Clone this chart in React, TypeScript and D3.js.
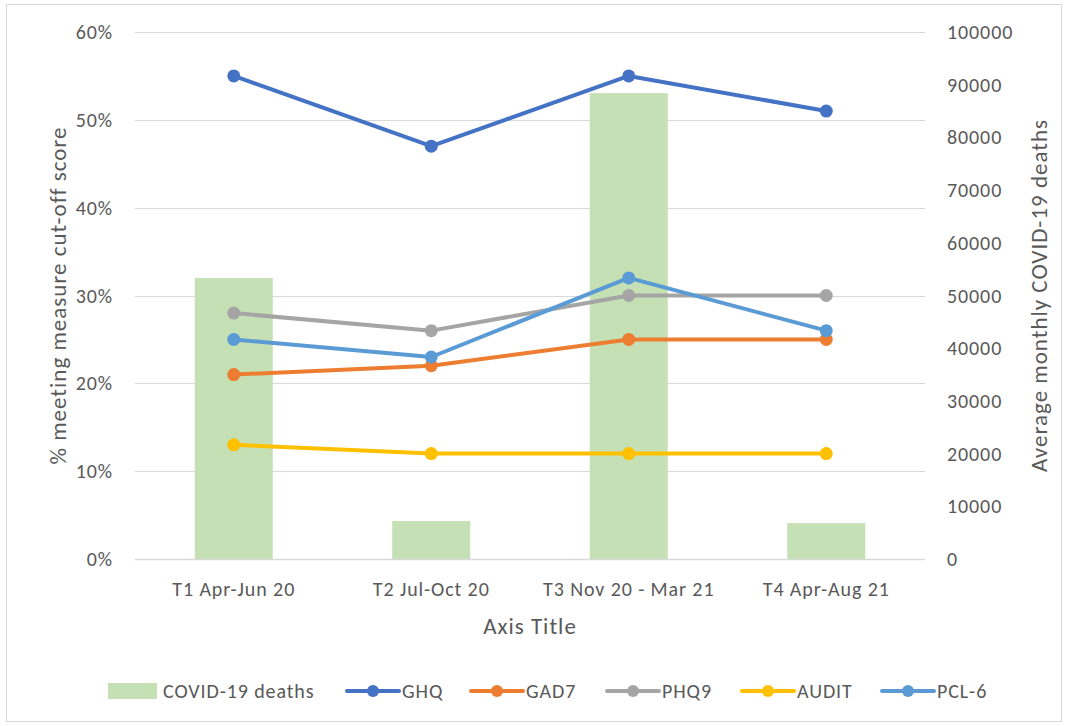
import { useEffect, useRef } from "react";
import * as d3 from "d3";

const periods = ["T1 Apr-Jun 20", "T2 Jul-Oct 20", "T3 Nov 20 - Mar 21", "T4 Apr-Aug 21"];
const covidDeaths = [53300, 7200, 88400, 6800];
const ghq = [0.55, 0.47, 0.55, 0.51];
const gad7 = [0.21, 0.22, 0.25, 0.25];
const phq9 = [0.28, 0.26, 0.3, 0.3];
const audit = [0.13, 0.12, 0.12, 0.12];
const pcl6 = [0.25, 0.23, 0.32, 0.26];

const seriesNames = ["GHQ", "GAD7", "PHQ9", "AUDIT", "PCL-6"];
const seriesColors = ["#4472C4", "#ED7D31", "#A5A5A5", "#FFC000", "#5B9BD5"];

const FONT = "Carlito, Calibri, 'Liberation Sans Narrow', 'Open Sans', sans-serif";
const TEXT = "#595959";

export default function App() {
  const ref = useRef<SVGSVGElement>(null);

  useEffect(() => {
    if (!ref.current) return;
    const width = 1069;
    const height = 726;
    const svg = d3.select(ref.current);
    svg.selectAll("*").remove();
    svg.attr("viewBox", `0 0 ${width} ${height}`);

    const left = 135, right = 925, top = 32, bottom = 559;

    svg.append("rect")
      .attr("x", 6.5).attr("y", 4.5)
      .attr("width", 1055).attr("height", 717)
      .attr("fill", "#fff").attr("stroke", "#D9D9D9");

    const x = d3.scaleBand().domain(periods).range([left, right]);
    const y = d3.scaleLinear().domain([0, 0.6]).range([bottom, top]);
    const y2 = d3.scaleLinear().domain([0, 100000]).range([bottom, top]);

    // gridlines
    svg.append("g")
      .selectAll("line")
      .data(y.ticks(6))
      .join("line")
      .attr("x1", left).attr("x2", right)
      .attr("y1", (d) => Math.round(y(d)) + 0.5)
      .attr("y2", (d) => Math.round(y(d)) + 0.5)
      .attr("stroke", "#D9D9D9")
      .attr("stroke-width", 1);

    // bars
    const barW = 78;
    svg.append("g")
      .selectAll("rect")
      .data(covidDeaths)
      .join("rect")
      .attr("x", (_, i) => x(periods[i])! + x.bandwidth() / 2 - barW / 2)
      .attr("y", (d) => y2(d))
      .attr("width", barW)
      .attr("height", (d) => bottom - y2(d))
      .attr("fill", "#C5E0B4");

    // baseline
    svg.append("line")
      .attr("x1", left).attr("x2", right)
      .attr("y1", bottom + 0.5).attr("y2", bottom + 0.5)
      .attr("stroke", "#D9D9D9").attr("stroke-width", 1.5);

    const tickStyle = (sel: any) =>
      sel.attr("font-size", 20).attr("letter-spacing", 0.9).attr("fill", TEXT);

    // left ticks
    svg.append("g")
      .selectAll("text")
      .data(y.ticks(6))
      .join("text")
      .attr("x", 113)
      .attr("y", (d) => y(d))
      .attr("dy", "0.35em")
      .attr("text-anchor", "end")
      .call(tickStyle)
      .text((d) => d3.format(".0%")(d));

    // right ticks
    svg.append("g")
      .selectAll("text")
      .data(y2.ticks(10))
      .join("text")
      .attr("x", 947)
      .attr("y", (d) => y2(d))
      .attr("dy", "0.35em")
      .attr("text-anchor", "start")
      .call(tickStyle)
      .text((d) => String(d));

    // category labels
    svg.append("g")
      .selectAll("text")
      .data(periods)
      .join("text")
      .attr("x", (d) => x(d)! + x.bandwidth() / 2)
      .attr("y", 589)
      .attr("dy", "0.35em")
      .attr("text-anchor", "middle")
      .call(tickStyle)
      .text((d) => d);

    // axis titles
    const titleStyle = (sel: any) =>
      sel.attr("font-size", 23).attr("letter-spacing", 1).attr("fill", TEXT)
        .attr("text-anchor", "middle").attr("dy", "0.35em");
    svg.append("text")
      .attr("transform", `translate(58,${(top + bottom) / 2}) rotate(-90)`)
      .call(titleStyle)
      .text("% meeting measure cut-off score");
    svg.append("text")
      .attr("transform", `translate(1039,${(top + bottom) / 2}) rotate(-90)`)
      .call(titleStyle)
      .text("Average monthly COVID-19 deaths");
    svg.append("text")
      .attr("x", (left + right) / 2)
      .attr("y", 626)
      .call(titleStyle)
      .text("Axis Title");

    // lines
    const allSeries = [ghq, gad7, phq9, audit, pcl6];
    const line = d3.line<number>()
      .x((_, i) => x(periods[i])! + x.bandwidth() / 2)
      .y((d) => y(d));
    allSeries.forEach((s, k) => {
      const g = svg.append("g");
      g.append("path")
        .attr("d", line(s))
        .attr("fill", "none")
        .attr("stroke", seriesColors[k])
        .attr("stroke-width", 4)
        .attr("stroke-linejoin", "round");
      g.selectAll("circle")
        .data(s)
        .join("circle")
        .attr("cx", (_, i) => x(periods[i])! + x.bandwidth() / 2)
        .attr("cy", (d) => y(d))
        .attr("r", 6.5)
        .attr("fill", seriesColors[k]);
    });

    // legend
    const ly = 691;
    const leg = svg.append("g").call(tickStyle);
    leg.append("rect").attr("x", 108).attr("y", ly - 8).attr("width", 49).attr("height", 16).attr("fill", "#C5E0B4");
    leg.append("text").attr("x", 163).attr("y", ly).attr("dy", "0.35em").text("COVID-19 deaths");
    const legX = [347, 471, 607, 742, 882];
    seriesNames.forEach((n, k) => {
      const lx = legX[k];
      leg.append("line")
        .attr("x1", lx).attr("x2", lx + 52)
        .attr("y1", ly).attr("y2", ly)
        .attr("stroke", seriesColors[k]).attr("stroke-width", 4).attr("stroke-linecap", "round");
      leg.append("circle").attr("cx", lx + 26).attr("cy", ly).attr("r", 6).attr("fill", seriesColors[k]);
      leg.append("text").attr("x", lx + 55).attr("y", ly).attr("dy", "0.35em").text(n);
    });
  }, []);

  return (
    <svg
      ref={ref}
      width={1069}
      height={726}
      style={{ position: "absolute", left: 0, top: 0, display: "block", fontFamily: FONT }}
    />
  );
}
